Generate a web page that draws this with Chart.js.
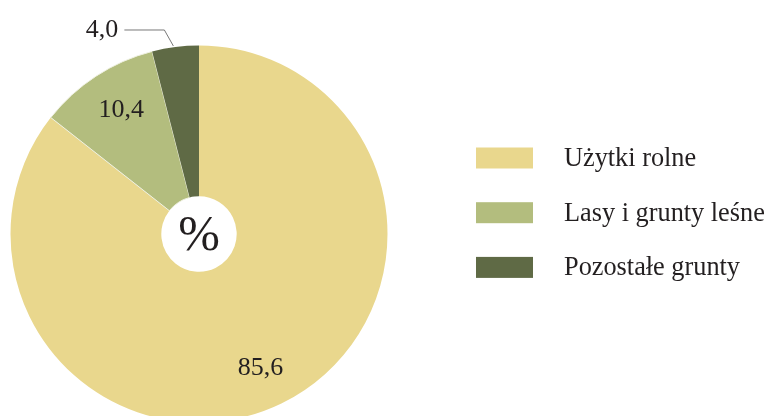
<!DOCTYPE html>
<html>
<head>
<meta charset="utf-8">
<script src="https://cdn.jsdelivr.net/npm/chart.js@4/dist/chart.umd.min.js"></script>
<style>
  html, body { margin: 0; padding: 0; background: #fff; overflow: hidden; }
  #wrap { position: absolute; left: 0; top: 0; width: 771px; height: 430px; }
</style>
</head>
<body>
<div id="wrap"><canvas id="c" width="771" height="430"></canvas></div>
<script>
const categories = ['Użytki rolne', 'Lasy i grunty leśne', 'Pozostałe grunty'];
const values = [85.6, 10.4, 4.0];
const valueLabels = ['85,6', '10,4', '4,0'];
const colors = ['#E9D78D', '#B3BD7E', '#5F6A45'];
const centerLabel = '%';

const FONT = '"Liberation Serif", "Times New Roman", serif';

const labelPlugin = {
  id: 'labels',
  afterDatasetsDraw(chart) {
    const ctx = chart.ctx;
    const meta = chart.getDatasetMeta(0);
    ctx.save();
    ctx.fillStyle = '#231F20';
    ctx.font = '26px ' + FONT;
    ctx.textBaseline = 'middle';
    meta.data.forEach((arc, i) => {
      const p = arc.getProps(['x', 'y', 'startAngle', 'endAngle', 'outerRadius', 'innerRadius'], true);
      const mid = (p.startAngle + p.endAngle) / 2;
      const share = values[i] / values.reduce((a, b) => a + b, 0);
      if (share > 0.06) {
        const r = p.outerRadius * 0.78;
        const ang = mid + 0.02;
        ctx.textAlign = 'center';
        ctx.fillText(valueLabels[i], p.x + Math.cos(ang) * r, p.y + Math.sin(ang) * r + 1);
      } else {
        const ex = p.x + Math.cos(mid) * p.outerRadius;
        const ey = p.y + Math.sin(mid) * p.outerRadius;
        const ky = ey - 17;
        const kx = ex - 11;
        ctx.strokeStyle = '#555';
        ctx.lineWidth = 0.8;
        ctx.beginPath();
        ctx.moveTo(ex - 2, ey - 1);
        ctx.lineTo(kx, ky);
        ctx.lineTo(kx - 40, ky);
        ctx.stroke();
        ctx.textAlign = 'right';
        ctx.fillText(valueLabels[i], kx - 46, ky);
      }
    });
    // centre symbol
    const a0 = meta.data[0];
    ctx.textAlign = 'center';
    ctx.font = '50px ' + FONT;
    ctx.fillText(centerLabel, a0.x, a0.y + 3);

    // legend
    ctx.font = '26.3px ' + FONT;
    ctx.textAlign = 'left';
    categories.forEach((name, i) => {
      const cy = 158 + i * 54.7;
      ctx.fillStyle = colors[i];
      ctx.fillRect(476, cy - 10.5, 57, 21);
      ctx.fillStyle = '#231F20';
      ctx.fillText(name, 564, cy + 1);
    });
    ctx.restore();
  }
};

new Chart(document.getElementById('c'), {
  type: 'doughnut',
  data: {
    labels: categories,
    datasets: [{
      data: values,
      backgroundColor: colors,
      borderWidth: [0, 1, 0],
      borderColor: ['#E9D78D', '#EEF0E0', '#5F6A45'],
      hoverOffset: 0
    }]
  },
  options: {
    responsive: false,
    devicePixelRatio: 1,
    animation: false,
    cutout: '20%',
    layout: { padding: { left: 10, top: 45, right: 383, bottom: 7 } },
    plugins: {
      legend: { display: false },
      tooltip: { enabled: false }
    }
  },
  plugins: [labelPlugin]
});
</script>
</body>
</html>
